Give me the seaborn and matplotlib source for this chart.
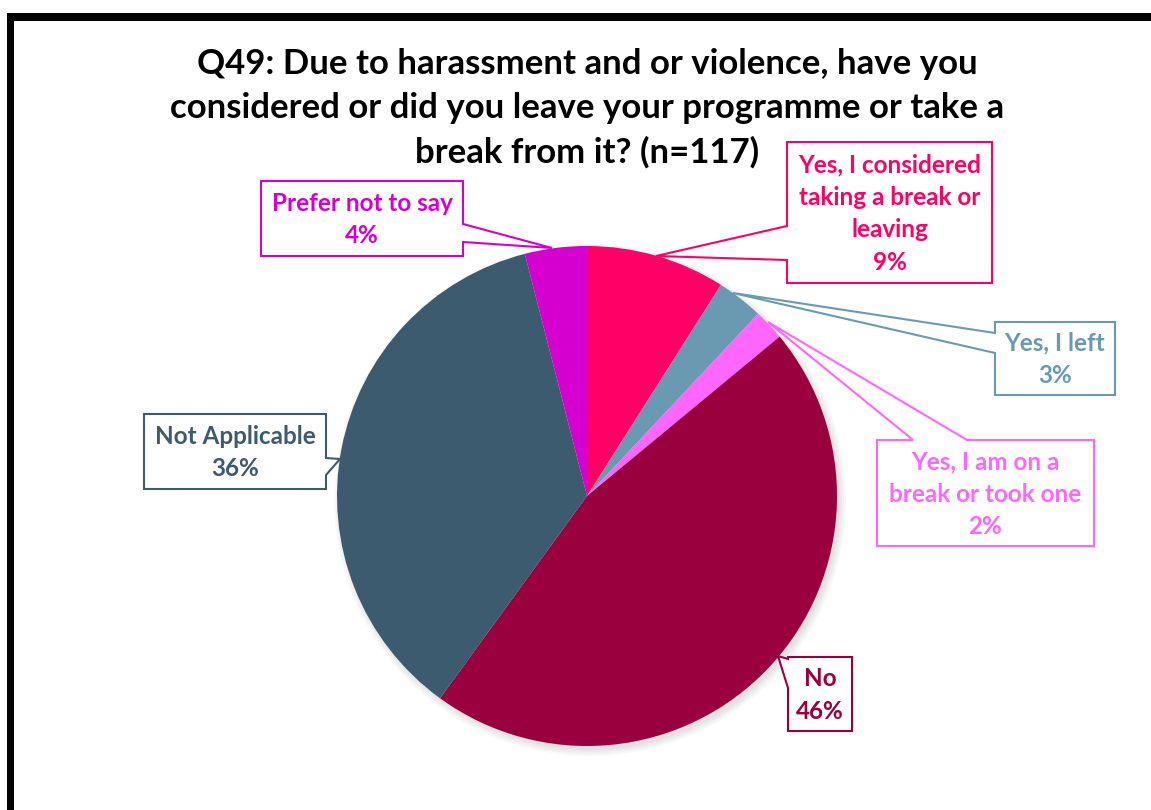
import matplotlib
matplotlib.use("Agg")
import matplotlib.pyplot as plt
import seaborn as sns
from matplotlib.patches import Polygon, Circle, Rectangle

# data (percent of n=117)
categories = [
    "Yes, I considered\ntaking a break or\nleaving",
    "Yes, I left",
    "Yes, I am on a\nbreak or took one",
    "No",
    "Not Applicable",
    "Prefer not to say",
]
percents = [9, 3, 2, 46, 36, 4]
colors = ["#FF0066", "#6A9AB1", "#FF66FF", "#99003D", "#3D5B6E", "#D500D0"]
title_lines = ["Q49: Due to harassment and or violence, have you",
               "considered or did you leave your programme or take a",
               "break from it? (n=117)"]

sns.set_theme(style="white")
plt.rcParams["font.family"] = ["Lato", "DejaVu Sans"]

W, H = 1151, 810
fig = plt.figure(figsize=(W / 100, H / 100), dpi=100)
ax = fig.add_axes([0, 0, 1, 1])

cx, cy, r = 587, 496, 250

# soft shadow behind the pie
for i, a in enumerate([0.05, 0.05, 0.06, 0.07]):
    ax.add_patch(Circle((cx + 3, cy + 4), r + 6 - i * 2, color="#808080",
                        alpha=a, lw=0, zorder=1))

wedges, _ = ax.pie(percents, colors=colors, startangle=270, counterclock=True,
                   center=(cx, cy), radius=r, wedgeprops=dict(lw=0, zorder=2))

ax.set_xlim(0, W)
ax.set_ylim(H, 0)
ax.set_aspect("auto")
ax.axis("off")

# frame lines (top and left)
ax.add_patch(Rectangle((7, 13), W, 8, color="black", lw=0, zorder=5))
ax.add_patch(Rectangle((7, 13), 7, H, color="black", lw=0, zorder=5))

# title, one line at a time
for i, line in enumerate(title_lines):
    ax.text(587, 64 + i * 44, line, ha="center", va="center", fontsize=25,
            fontweight="bold", color="black")


def callout(box, side, wedge_pts, tip, text, color):
    x0, y0, x1, y1 = box
    a, b = wedge_pts
    if side == "left":
        pts = [(x0, y0), (x1, y0), (x1, y1), (x0, y1), (x0, b), tip, (x0, a)]
    elif side == "right":
        pts = [(x0, y0), (x1, y0), (x1, a), tip, (x1, b), (x1, y1), (x0, y1)]
    else:  # top
        pts = [(x0, y0), (a, y0), tip, (b, y0), (x1, y0), (x1, y1), (x0, y1)]
    ax.add_patch(Polygon(pts, closed=True, facecolor="white", edgecolor=color,
                         lw=1.5, zorder=3, joinstyle="miter"))
    ax.text((x0 + x1) / 2, (y0 + y1) / 2 + 1, text, ha="center", va="center",
            fontsize=17.5, fontweight="bold", color=color, linespacing=1.5,
            zorder=4)


labels = [f"{c}\n{p}%" for c, p in zip(categories, percents)]

callout((787, 142, 992, 283), "left", (226, 260), (656, 256), labels[0], colors[0])
callout((995, 322, 1115, 395), "left", (333, 353), (733, 293), labels[1], colors[1])
callout((877, 440, 1094, 546), "top", (913, 967), (768, 322), labels[2], colors[2])
callout((788, 657, 852, 731), "left", (659, 688), (778, 656), labels[3], colors[3])
callout((144, 414, 326, 489), "right", (458, 475), (340, 459), labels[4], colors[4])
callout((261, 181, 463, 256), "right", (224, 242), (552, 248), labels[5], colors[5])

fig.savefig("out.png", dpi=100, facecolor="white")
